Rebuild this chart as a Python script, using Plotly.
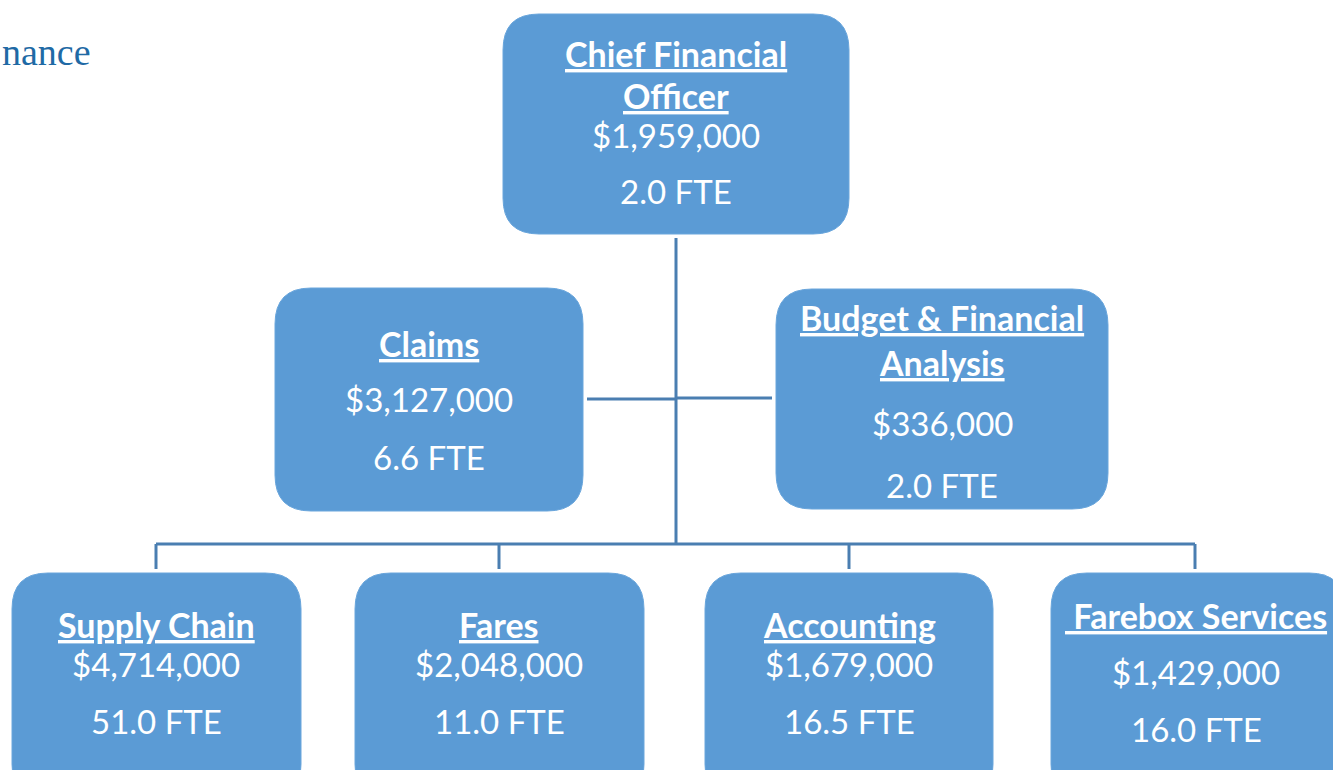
import plotly.graph_objects as go

# ---- data ----
units = ["Chief Financial Officer", "Claims", "Budget & Financial Analysis",
         "Supply Chain", "Fares", "Accounting", "Farebox Services"]
title_lines = [["Chief Financial", "Officer"], ["Claims"], ["Budget & Financial", "Analysis"],
               ["Supply Chain"], ["Fares"], ["Accounting"], [" Farebox Services"]]
budgets = [1959000, 3127000, 336000, 4714000, 2048000, 1679000, 1429000]
fte = [2.0, 6.6, 2.0, 51.0, 11.0, 16.5, 16.0]
page_title = "nance"  # visible part of the page heading

# ---- layout (pixel space of the page) ----
boxes = [(503, 849, 14, 234), (275, 583, 288, 511), (776, 1108, 289, 509),
         (12, 301, 573, 800), (355, 644, 573, 800), (705, 993, 573, 800), (1051, 1345, 573, 800)]
text_x = [676, 429, 942, 156, 499, 849, 1196]
title_y = [[53, 95], [343], [317, 362], [624], [624], [624], [615]]
budget_y = [135, 399, 423, 664, 664, 664, 672]
fte_y = [191, 457, 485, 721, 721, 721, 729]

BOX = "#5b9bd5"
LINE = "#4a7eb1"
FONT = "Lato"
R = 36
W, H = 1333, 770

def rrect(x0, x1, y0, y1, r):
    return (f"M{x0+r},{y0} L{x1-r},{y0} Q{x1},{y0} {x1},{y0+r} L{x1},{y1-r} "
            f"Q{x1},{y1} {x1-r},{y1} L{x0+r},{y1} Q{x0},{y1} {x0},{y1-r} "
            f"L{x0},{y0+r} Q{x0},{y0} {x0+r},{y0} Z")

shapes = []
conn = [((676, 238), (676, 544)), ((156, 544), (1195, 544)),
        ((587, 399), (676, 399)), ((676, 398), (772, 398))]
for cx in [156, 499, 849, 1195]:
    conn.append(((cx, 544), (cx, 569)))
for (a, b) in conn:
    shapes.append(dict(type="line", xref="x", yref="y", x0=a[0], y0=a[1], x1=b[0], y1=b[1],
                       line=dict(color=LINE, width=3), layer="below"))
for (x0, x1, y0, y1) in boxes:
    shapes.append(dict(type="path", xref="x", yref="y", path=rrect(x0, x1, y0, y1, R),
                       fillcolor=BOX, line=dict(color="#6aa6dc", width=1), layer="above"))

annotations = []
for i in range(len(units)):
    for line, ty in zip(title_lines[i], title_y[i]):
        annotations.append(dict(x=text_x[i], y=ty, xref="x", yref="y", text=f"<b><u>{line}</u></b>",
                                showarrow=False, font=dict(family=FONT, size=34, color="white"),
                                xanchor="center", yanchor="middle"))
    annotations.append(dict(x=text_x[i], y=budget_y[i], xref="x", yref="y", text=f"${budgets[i]:,}",
                            showarrow=False, font=dict(family=FONT, size=33, color="white"),
                            xanchor="center", yanchor="middle"))
    annotations.append(dict(x=text_x[i], y=fte_y[i], xref="x", yref="y", text=f"{fte[i]:.1f} FTE",
                            showarrow=False, font=dict(family=FONT, size=33, color="white"),
                            xanchor="center", yanchor="middle"))

annotations.append(dict(x=0, y=1 - 52 / H, xref="paper", yref="paper", text=page_title,
                        showarrow=False, font=dict(family="Liberation Serif", size=38, color="#1f6aa5"),
                        xanchor="left", yanchor="middle"))

fig = go.Figure()
fig.add_trace(go.Scatter(x=[0, W], y=[0, H], mode="markers", marker=dict(opacity=0),
                         hoverinfo="skip", showlegend=False))
fig.update_layout(width=W, height=H, margin=dict(l=0, r=0, t=0, b=0),
                  paper_bgcolor="white", plot_bgcolor="white",
                  xaxis=dict(range=[0, W], visible=False, fixedrange=True),
                  yaxis=dict(range=[H, 0], visible=False, fixedrange=True),
                  shapes=shapes, annotations=annotations, showlegend=False)
fig.write_html("out.html", config={"displayModeBar": False},
               post_script="document.body.style.margin='0';document.body.style.overflow='hidden';")
